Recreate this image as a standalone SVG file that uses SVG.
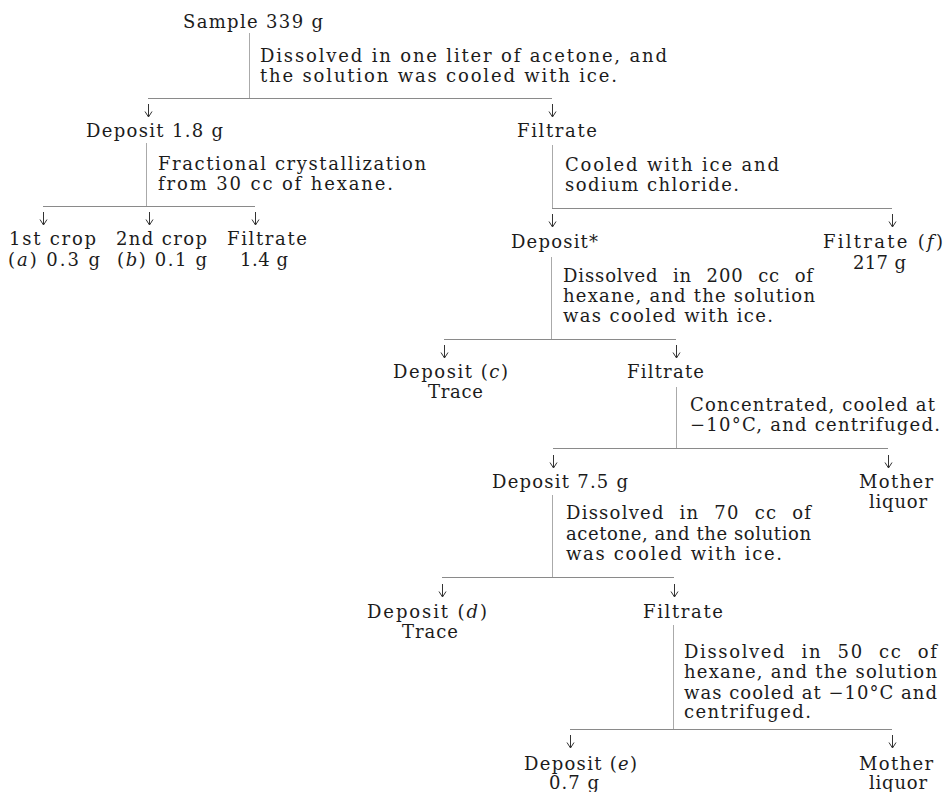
<svg xmlns="http://www.w3.org/2000/svg" width="946" height="792" viewBox="0 0 946 792">
<defs>
<style>
text{font-family:"DejaVu Serif","Liberation Serif",serif;font-size:18px;fill:#1c1c1c}
.i{font-style:italic}
.j{word-spacing:8px}
.h{stroke:#8a8a8a;stroke-width:1;fill:none}
.v{stroke:#aaaaaa;stroke-width:1;fill:none}
.a{stroke:#333;stroke-width:1;fill:none}
</style>
<path id="arr" class="a" d="M0,0 V13 M-3.5,7.5 L0,13 L3.5,7.5"/>
</defs>
<rect width="946" height="792" fill="#ffffff"/>
<g id="connectors">
<path class="v" d="M249.5,33 V98"/>
<path class="h" d="M148,98.5 H552"/>
<use href="#arr" x="148.5" y="104"/>
<use href="#arr" x="552.5" y="104"/>
<path class="v" d="M146.5,143 V206"/>
<path class="h" d="M43,206.5 H255"/>
<use href="#arr" x="43.5" y="212"/>
<use href="#arr" x="149.5" y="212"/>
<use href="#arr" x="255.5" y="212"/>
<path class="v" d="M552.5,145 V208"/>
<path class="h" d="M552,208.5 H892"/>
<use href="#arr" x="552.5" y="214"/>
<use href="#arr" x="892.5" y="214"/>
<path class="v" d="M551.5,257 V339"/>
<path class="h" d="M444,339.5 H676"/>
<use href="#arr" x="444.5" y="345"/>
<use href="#arr" x="676.5" y="345"/>
<path class="v" d="M676.5,387 V448"/>
<path class="h" d="M553,448.5 H888"/>
<use href="#arr" x="553.5" y="455"/>
<use href="#arr" x="888.5" y="455"/>
<path class="v" d="M552.5,495 V577"/>
<path class="h" d="M442,577.5 H674"/>
<use href="#arr" x="442.5" y="584"/>
<use href="#arr" x="674.5" y="584"/>
<path class="v" d="M673.5,625 V729"/>
<path class="h" d="M570,729.5 H892"/>
<use href="#arr" x="570.5" y="735"/>
<use href="#arr" x="892.5" y="735"/>
</g>
<g id="sample">
<text x="183" y="28" textLength="140">Sample 339 g</text>
<text x="260" y="62" textLength="407">Dissolved in one liter of acetone, and</text>
<text x="260" y="82" textLength="357">the solution was cooled with ice.</text>
</g>
<g id="deposit1">
<text x="86" y="137" textLength="137">Deposit 1.8 g</text>
<text x="158" y="170" textLength="268">Fractional crystallization</text>
<text x="158" y="190" textLength="235">from 30 cc of hexane.</text>
</g>
<g id="filtrate1">
<text x="517" y="137" textLength="80">Filtrate</text>
<text x="565" y="171" textLength="214">Cooled with ice and</text>
<text x="565" y="191" textLength="174">sodium chloride.</text>
</g>
<g id="crop1">
<text x="9" y="245" textLength="87">1st crop</text>
<text x="8" y="266" textLength="92">(<tspan class="i">a</tspan>) 0.3 g</text>
</g>
<g id="crop2">
<text x="116" y="245" textLength="91">2nd crop</text>
<text x="117" y="266" textLength="90">(<tspan class="i">b</tspan>) 0.1 g</text>
</g>
<g id="filtrate-left">
<text x="227" y="245" textLength="80">Filtrate</text>
<text x="240" y="266" textLength="48">1.4 g</text>
</g>
<g id="deposit-star">
<text x="511" y="248" textLength="87">Deposit*</text>
<text class="j" x="563" y="282" textLength="250">Dissolved in 200 cc of</text>
<text x="563" y="302" textLength="252">hexane, and the solution</text>
<text x="563" y="322" textLength="210">was cooled with ice.</text>
</g>
<g id="filtrate-f">
<text x="823" y="248" textLength="120">Filtrate (<tspan class="i">f</tspan>)</text>
<text x="853" y="269" textLength="53">217 g</text>
</g>
<g id="deposit-c">
<text x="393" y="378" textLength="115">Deposit (<tspan class="i">c</tspan>)</text>
<text x="428" y="398" textLength="55">Trace</text>
</g>
<g id="filtrate2">
<text x="627" y="378" textLength="77">Filtrate</text>
<text x="690" y="411" textLength="245">Concentrated, cooled at</text>
<text x="690" y="431" textLength="250">−10°C, and centrifuged.</text>
</g>
<g id="deposit-75">
<text x="492" y="488" textLength="136">Deposit 7.5 g</text>
<text class="j" x="566" y="519" textLength="245">Dissolved in 70 cc of</text>
<text x="566" y="540" textLength="245">acetone, and the solution</text>
<text x="566" y="560" textLength="216">was cooled with ice.</text>
</g>
<g id="mother1">
<text x="859" y="488" textLength="74">Mother</text>
<text x="869" y="508" textLength="58">liquor</text>
</g>
<g id="deposit-d">
<text x="367" y="618" textLength="120">Deposit (<tspan class="i">d</tspan>)</text>
<text x="402" y="638" textLength="56">Trace</text>
</g>
<g id="filtrate3">
<text x="643" y="618" textLength="80">Filtrate</text>
<text class="j" x="684" y="658" textLength="253">Dissolved in 50 cc of</text>
<text x="684" y="678" textLength="253">hexane, and the solution</text>
<text x="684" y="699" textLength="253">was cooled at −10°C and</text>
<text x="684" y="718" textLength="127">centrifuged.</text>
</g>
<g id="deposit-e">
<text x="524" y="770" textLength="113">Deposit (<tspan class="i">e</tspan>)</text>
<text x="549" y="789" textLength="50">0.7 g</text>
</g>
<g id="mother2">
<text x="859" y="770" textLength="74">Mother</text>
<text x="869" y="789" textLength="58">liquor</text>
</g>
</svg>
